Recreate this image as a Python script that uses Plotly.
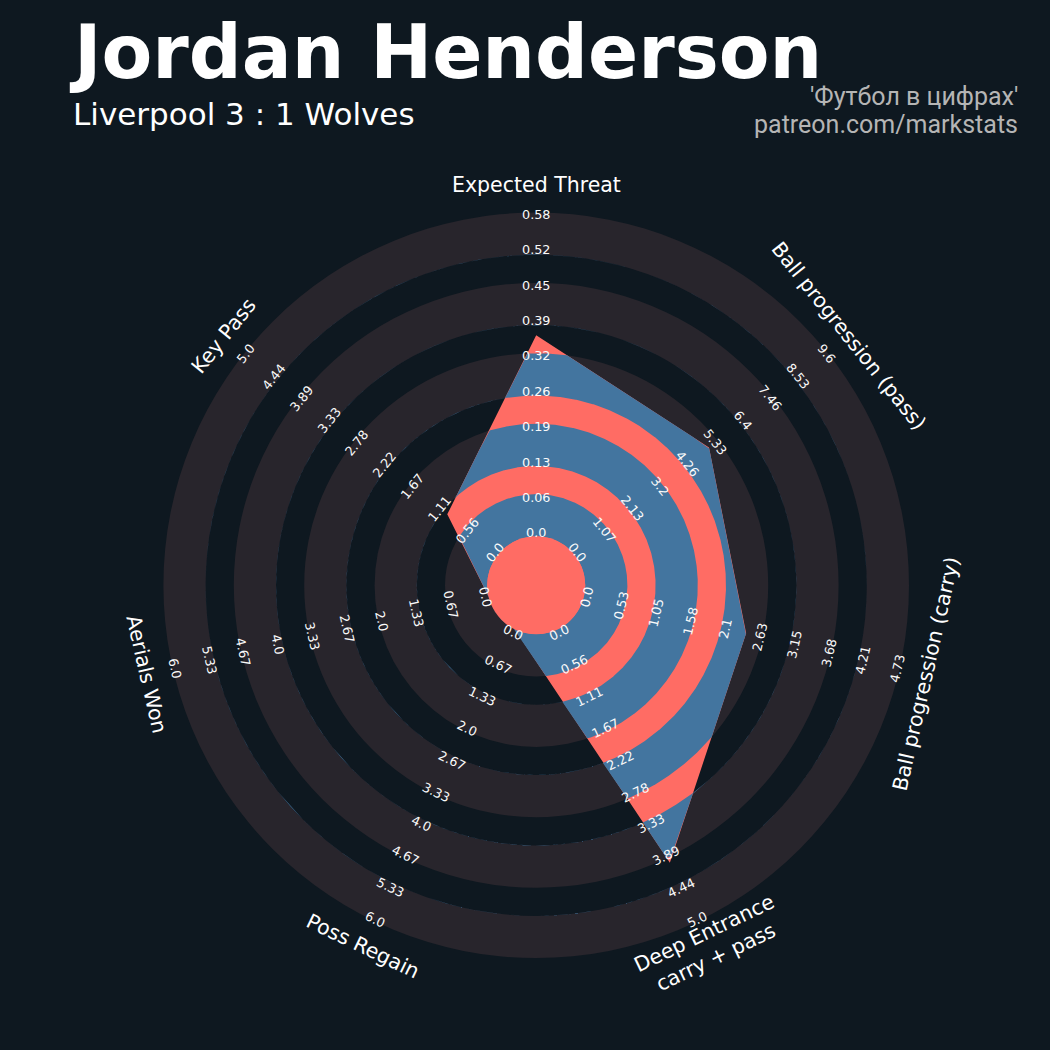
import numpy as np
import plotly.graph_objects as go

# ---------------- data ----------------
params = ["Expected Threat", "Ball progression (pass)", "Ball progression (carry)",
          "Deep Entrance<br>carry + pass", "Poss Regain", "Aerials Won", "Key Pass"]
range_min = [0, 0, 0, 0, 0, 0, 0]
range_max = [0.58, 9.6, 4.73, 5.0, 6.0, 6.0, 5.0]
values = [0.36, 5.1, 2.43, 4.0, 0.0, 0.0, 1.0]

ticks_xt = ["0.0", "0.06", "0.13", "0.19", "0.26", "0.32", "0.39", "0.45", "0.52", "0.58"]
ticks_pass = ["0.0", "1.07", "2.13", "3.2", "4.26", "5.33", "6.4", "7.46", "8.53", "9.6"]
ticks_carry = ["0.0", "0.53", "1.05", "1.58", "2.1", "2.63", "3.15", "3.68", "4.21", "4.73"]
ticks_deep = ["0.0", "0.56", "1.11", "1.67", "2.22", "2.78", "3.33", "3.89", "4.44", "5.0"]
ticks_regain = ["0.0", "0.67", "1.33", "2.0", "2.67", "3.33", "4.0", "4.67", "5.33", "6.0"]
ticks_aerial = ["0.0", "0.67", "1.33", "2.0", "2.67", "3.33", "4.0", "4.67", "5.33", "6.0"]
ticks_key = ["0.0", "0.56", "1.11", "1.67", "2.22", "2.78", "3.33", "3.89", "4.44", "5.0"]
tick_labels = [ticks_xt, ticks_pass, ticks_carry, ticks_deep, ticks_regain, ticks_aerial, ticks_key]

title = "Jordan Henderson"
subtitle = "Liverpool 3 : 1 Wolves"
credit1 = "'Футбол в цифрах'"
credit2 = "patreon.com/markstats"

# ---------------- style / layout ----------------
BG = "#0e1820"
RING = "#28252c"
BLUE = "#43759f"
SALMON = "#ff6c64"
W = H = 1050
CX, CY = 536.2, 585.3
R0 = 49.0
GRAY_W = 42.2
GAP_W = 28.2
N_RINGS = 5
R_OUT = R0 + N_RINGS * GRAY_W + (N_RINGS - 1) * GAP_W
LBL0, LBL9 = 52.5, 371.0
PARAM_R = 400.0

n = len(params)
step = 360.0 / n
theta = np.array([90.0 - i * step for i in range(n)])

# gray ring bounds
rings = []
r = R0
for k in range(N_RINGS):
    rings.append((r, r + GRAY_W))
    r += GRAY_W + GAP_W

def to_xy(rho, th_deg):
    t = np.radians(th_deg)
    return CX + rho * np.cos(t), CY - rho * np.sin(t)

fig = go.Figure()
shapes = []
# concentric discs: gray ring, then background gap, from outside in
radii = []
for (a, b) in rings[::-1]:
    radii.append((b, RING))
    radii.append((a, BG))
for rad, col in radii:
    shapes.append(dict(type="circle", xref="x", yref="y", x0=CX - rad, x1=CX + rad,
                       y0=CY - rad, y1=CY + rad, fillcolor=col, line=dict(width=0),
                       layer="below"))

# radar polygon
vmin = np.array(range_min, float)
vmax = np.array(range_max, float)
vals = np.array(values, float)
rho = R0 + (vals - vmin) / (vmax - vmin) * (R_OUT - R0)
px, py = to_xy(rho, theta)
fig.add_trace(go.Scatter(x=np.append(px, px[0]), y=np.append(py, py[0]), mode="lines",
                         fill="toself", fillcolor=SALMON, line=dict(width=0, color=SALMON),
                         hoverinfo="skip"))

# polygon boundary radius as a function of angle
th_r = np.radians(theta)
P = np.stack([rho * np.cos(th_r), rho * np.sin(th_r)], 1)
phis, Rs = [], []
for i in range(n):
    j = (i + 1) % n
    ph = np.radians(np.linspace(theta[i], theta[i] - step, 240, endpoint=False))
    d = np.stack([np.cos(ph), np.sin(ph)], 1)
    E = P[j] - P[i]
    s = (P[i][0] * P[j][1] - P[i][1] * P[j][0]) / (d[:, 0] * E[1] - d[:, 1] * E[0])
    phis.append(ph)
    Rs.append(s)
phi = np.concatenate(phis)
Rb = np.concatenate(Rs)
k0 = int(np.argmin(Rb))
phi = np.roll(phi, -k0)
Rb = np.roll(Rb, -k0)
phi = np.append(phi, phi[0] - 2 * np.pi)
Rb = np.append(Rb, Rb[0])

for (a, b) in rings:
    outer = np.clip(Rb, a, b)
    ox = CX + outer * np.cos(phi)
    oy = CY - outer * np.sin(phi)
    ix = CX + a * np.cos(phi[::-1])
    iy = CY - a * np.sin(phi[::-1])
    fig.add_trace(go.Scatter(x=np.concatenate([ox, ix]), y=np.concatenate([oy, iy]),
                             mode="lines", fill="toself", fillcolor=BLUE,
                             line=dict(width=0, color=BLUE), hoverinfo="skip"))

# center circle
shapes.append(dict(type="circle", xref="x", yref="y", x0=CX - R0, x1=CX + R0,
                   y0=CY - R0, y1=CY + R0, fillcolor=SALMON, line=dict(width=0),
                   layer="above"))

def text_angle(th):
    rot = th - 90.0
    rot = (rot + 180.0) % 360.0 - 180.0
    if rot > 90:
        rot -= 180
    if rot < -90:
        rot += 180
    return -rot

annotations = []
for i in range(n):
    ta = text_angle(theta[i])
    lx, ly = to_xy(PARAM_R, theta[i])
    annotations.append(dict(x=lx, y=ly, xref="x", yref="y", text=params[i], showarrow=False,
                            textangle=ta, xanchor="center", yanchor="middle", align="center",
                            font=dict(family="DejaVu Sans", size=20.5, color="#ffffff")))
    labs = tick_labels[i]
    for k, lab in enumerate(labs):
        rr = LBL0 + k * (LBL9 - LBL0) / (len(labs) - 1)
        tx, ty = to_xy(rr, theta[i])
        annotations.append(dict(x=tx, y=ty, xref="x", yref="y", text=lab, showarrow=False,
                                textangle=ta, xanchor="center", yanchor="middle",
                                font=dict(family="DejaVu Sans", size=12.8, color="#fafafa")))

annotations.append(dict(x=68, y=52, xref="x", yref="y", text=title, showarrow=False,
                        xanchor="left", yanchor="middle", borderpad=0,
                        font=dict(family="DejaVu Sans", size=74, color="#ffffff", weight="bold")))
annotations.append(dict(x=72, y=114, xref="x", yref="y", text=subtitle, showarrow=False,
                        xanchor="left", yanchor="middle", borderpad=0,
                        font=dict(family="DejaVu Sans", size=31, color="#ffffff")))
annotations.append(dict(x=1020, y=96, xref="x", yref="y", text=credit1, showarrow=False,
                        xanchor="right", yanchor="middle",
                        font=dict(family="Roboto", size=25, color="#b5b5b5")))
annotations.append(dict(x=1020, y=124, xref="x", yref="y", text=credit2, showarrow=False,
                        xanchor="right", yanchor="middle",
                        font=dict(family="Roboto", size=25, color="#b5b5b5")))

fig.update_layout(
    width=W, height=H, margin=dict(l=0, r=0, t=0, b=0),
    paper_bgcolor=BG, plot_bgcolor=BG, showlegend=False,
    xaxis=dict(range=[0, W], visible=False, fixedrange=True),
    yaxis=dict(range=[H, 0], visible=False, fixedrange=True),
    shapes=shapes, annotations=annotations,
)

fig.write_html("out.html", config={"displayModeBar": False},
               post_script="document.body.style.margin='0';")
